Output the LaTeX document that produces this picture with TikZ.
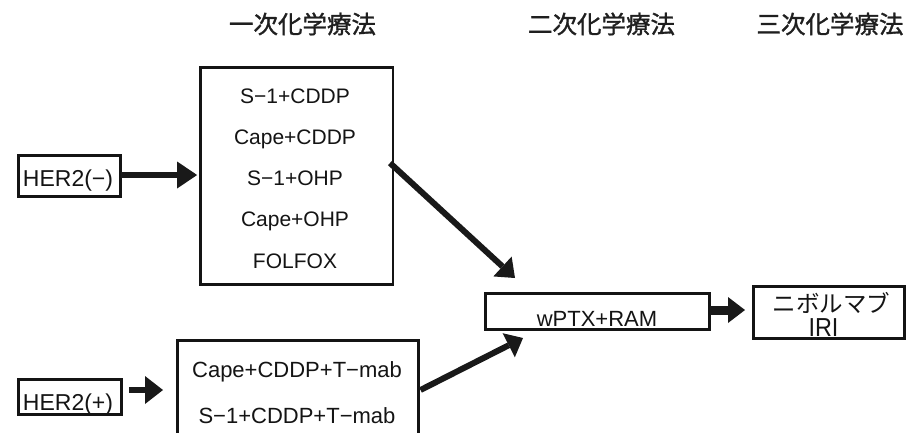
\documentclass[tikz,border=0pt]{standalone}
\usepackage{fontspec}
\setmainfont{Liberation Sans}
\newfontfamily\jpfont{Noto Sans CJK JP}
\newfontfamily\jpheadfont[FakeBold=1.3]{Noto Sans CJK JP}
\usetikzlibrary{arrows.meta}
\begin{document}
\begin{tikzpicture}[x=1pt,y=-1pt,
  box/.style={draw=black!92, line width=2.8pt, inner sep=0pt, outer sep=0pt},
  lbl/.style={inner sep=0pt, anchor=base, text=black!92},
  headlbl/.style={lbl, font=\jpheadfont\fontsize{24.5}{28}\selectfont, text=black!88},
  arr/.style n args={3}{draw=black!90, line width=#1, -{Triangle[length=#2, width=#3, line width=0pt]}},
]
\clip (0,0) rectangle (907,432);
\fill[white] (0,0) rectangle (907,432);

% headers
\node[headlbl] (h1) at (302.5,33.3) {一次化学療法};
\node[headlbl] (h2) at (601.5,33.3) {二次化学療法};
\node[headlbl] (h3) at (830,33.3) {三次化学療法};

% boxes
\node[box, minimum width=102pt, minimum height=41pt] (hern) at (69.5,176) {};
\node[box, minimum width=103pt, minimum height=35pt] (herp) at (70,397) {};
\node[box, minimum width=192.5pt, minimum height=217pt] (top) at (296.75,176) {};
\node[box, minimum width=241pt, minimum height=140pt] (low) at (298,410.5) {};
\node[box, minimum width=224pt, minimum height=36pt] (wptx) at (597.5,311.5) {};
\node[box, minimum width=151pt, minimum height=52pt] (nivo) at (829,312.5) {};

% texts
\node[lbl, font=\fontsize{23}{26}\selectfont] (hernt) at (68,186) {HER2(−)};
\node[lbl, font=\fontsize{23}{26}\selectfont] (herpt) at (68,410) {HER2(+)};

\node[lbl, font=\fontsize{21}{24}\selectfont] (t1) at (295,103.5) {S−1+CDDP};
\node[lbl, font=\fontsize{21}{24}\selectfont] (t2) at (295,144.6) {Cape+CDDP};
\node[lbl, font=\fontsize{21}{24}\selectfont] (t3) at (295,185.7) {S−1+OHP};
\node[lbl, font=\fontsize{21}{24}\selectfont] (t4) at (295,226.8) {Cape+OHP};
\node[lbl, font=\fontsize{21}{24}\selectfont] (t5) at (295,268) {FOLFOX};

\node[lbl, font=\fontsize{22}{25}\selectfont] (l1) at (297,377) {Cape+CDDP+T−mab};
\node[lbl, font=\fontsize{22}{25}\selectfont] (l2) at (297,423) {S−1+CDDP+T−mab};

\node[lbl, font=\fontsize{22}{25}\selectfont] (wt) at (597,326) {wPTX+RAM};

\node[lbl, font=\jpfont\fontsize{23.5}{26}\selectfont] (n1) at (831.5,312) {ニボルマブ};
\node[lbl, font=\fontsize{26}{28}\selectfont] (n2) at (823.5,336) {\scalebox{0.9}[1]{IRI}};

% arrows
\draw[arr={6pt}{20pt}{27pt}, shorten >=3.4pt] ([yshift=1pt]hern.east) -- ([yshift=1pt]hern.east -| top.west);
\draw[arr={6.5pt}{18pt}{28pt}, shorten >=14.5pt, shorten <=7.5pt] ([yshift=7pt]herp.east) -- ([yshift=7pt]herp.east -| low.west);
\draw[arr={6pt}{17pt}{27pt}] ([xshift=-3pt,yshift=13pt]top.east) -- ([xshift=29.5pt,yshift=15.5pt]wptx.north west);
\draw[arr={6pt}{16pt}{27pt}] ([xshift=2pt,yshift=-49.5pt]low.north east) -- ([xshift=37.5pt,yshift=-8.5pt]wptx.south west);
\draw[arr={9pt}{17pt}{26pt}, shorten >=8.5pt] ([yshift=1.5pt]wptx.east) -- ([yshift=1.5pt]wptx.east -| nivo.west);
\end{tikzpicture}
\end{document}
